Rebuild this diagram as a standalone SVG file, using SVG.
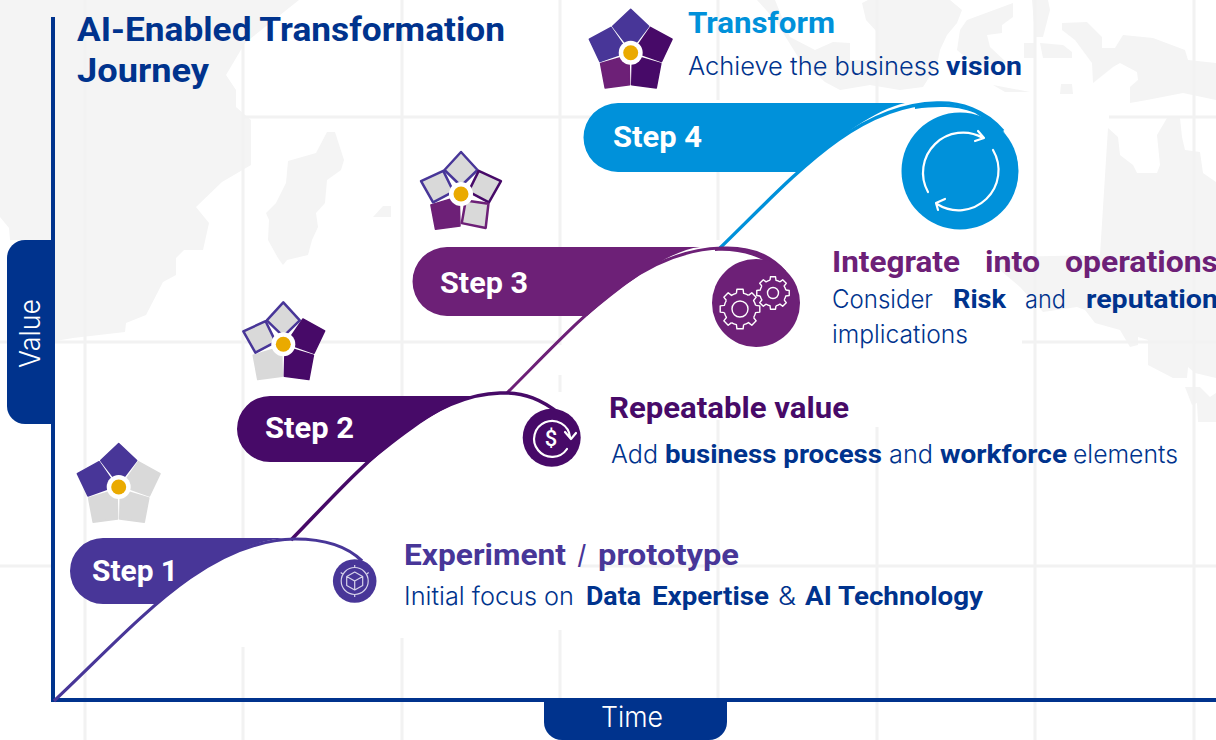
<svg xmlns="http://www.w3.org/2000/svg" width="1216" height="740" viewBox="0 0 1216 740">
<style>
.map{fill:#f4f4f4}
.grid{stroke:#f2f2f2;stroke-width:3;fill:none}
.ax{stroke:#00338D;stroke-width:4;fill:none}
.lt{font-family:"Inter","Liberation Sans",sans-serif;font-weight:300;font-size:25px;fill:#00338D}
.bd{font-family:"Roboto","Liberation Sans",sans-serif;font-weight:700;font-size:26px;fill:#00338D}
.hd{font-family:"Roboto","Liberation Sans",sans-serif;font-weight:700;font-size:29px}
.st{font-family:"Roboto","Liberation Sans",sans-serif;font-weight:700;font-size:30px;fill:#fff}
.ti{font-family:"Roboto","Liberation Sans",sans-serif;font-weight:700;font-size:34px;fill:#00338D}
.tab{font-family:"Inter","Liberation Sans",sans-serif;font-weight:300;font-size:28px;fill:#fff}
.ic{fill:none;stroke:#fff;stroke-width:2.2;stroke-linecap:round;stroke-linejoin:round}
.ic1{fill:none;stroke:#d8d4ea;stroke-width:1.2;stroke-linejoin:round}
.pA{fill:#483698;stroke:#483698;stroke-width:1.5}
.pB{fill:#470A68;stroke:#470A68;stroke-width:1.5}
.pC{fill:#6D2077;stroke:#6D2077;stroke-width:1.5}
.pG{fill:#d9d9d9;stroke:#d9d9d9;stroke-width:1.5}
.oA{fill:#d9d9d9;stroke:#483698;stroke-width:2.5}
.oB{fill:#d9d9d9;stroke:#470A68;stroke-width:2.5}
.oC{fill:#d9d9d9;stroke:#6D2077;stroke-width:2.5}
.hub{fill:#fff}
.dot{fill:#EAAA00}
</style>
<defs>
<path id="petal" stroke-linejoin="round" d="M0,-43.5 L18,-26.5 L0,-3 L-18,-26.5 Z"/>
<path id="petalO" stroke-linejoin="round" d="M0,-42 L16.5,-24 L0,-8 L-16.5,-24 Z"/>
<g id="hubdot"><circle class="hub" r="12"/><circle class="dot" r="7.5"/></g>
<path id="tooth" d="M-3.6,-15.6 L-3.1,-19.8 L3.1,-19.8 L3.6,-15.6 A16,16 0 0 1 8.5,-13.6"/>
<g id="gear">
<use href="#tooth"/><use href="#tooth" transform="rotate(45)"/><use href="#tooth" transform="rotate(90)"/><use href="#tooth" transform="rotate(135)"/><use href="#tooth" transform="rotate(180)"/><use href="#tooth" transform="rotate(225)"/><use href="#tooth" transform="rotate(270)"/><use href="#tooth" transform="rotate(315)"/>
</g>
</defs>
<rect width="1216" height="740" fill="#fff"/>
<g id="background-map">
<path class="map" d="M0,0 H299 L245,43 L226,75 L236,90 L236,107 L251,120 L251,165 L222,182 L196,207 L209,223 L203,250 L184,250 L176,258 L176,275 L163,282 L146,315 L126,323 L125,332 L73,338 L50,342 V240 L10,240 L9,228 L0,217 Z"/>
<path class="map" d="M327,132 L335,132 L344,160 L341,170 L327,180 L325,203 L316,213 L318,227 L312,240 L308,255 L287,260 L283,265 L278,258 L268,240 L269,220 L266,213 L276,203 L286,183 L288,161 L316,153 Z"/>
<path class="map" d="M383,206 H391 V217 H373 Z"/>
<path class="map" d="M757,0 L775,0 L790,37 L815,50 L833,42 L850,43 L850,60 L877,60 L877,32 L866,20 L862,3 L868,0 H950 L962,10 L957,23 L947,35 L940,50 L937,65 L923,87 L900,90 L870,85 L840,90 L825,82 L800,60 L775,20 Z"/>
<path class="map" d="M960,30 L967,20 L1013,3 L1013,17 L1002,25 L1002,33 L987,35 L990,47 L1007,63 L975,65 L957,50 Z"/>
<path class="map" d="M1032,0 H1048 L1050,10 L1043,37 L1035,37 Z"/>
<path class="map" d="M1024,43 H1035 V58 H1024 Z M1040,43 L1063,45 L1072,52 V58 H1043 Z"/>
<path class="map" d="M1061,84 H1072 L1073,94 H1060 Z M993,85 L1030,92 L1005,92 Z"/>
<path class="map" d="M1062,23 L1087,22 L1102,37 L1102,48 L1115,48 L1123,35 L1153,38 L1185,50 L1188,60 L1216,63 V100 L1183,93 L1147,100 L1130,103 L1130,87 L1138,80 L1137,72 L1120,63 L1113,67 L1093,83 L1092,63 L1075,40 L1062,30 Z"/>
<path class="map" d="M1108,128 L1118,137 L1120,155 L1133,165 L1137,173 L1157,173 L1160,165 L1157,135 L1167,118 L1180,118 L1182,137 L1185,150 L1200,152 L1203,173 L1216,182 V378 L1195,373 L1188,367 L1187,378 L1173,378 L1148,365 L1148,340 L1138,337 L1138,345 L1130,347 L1120,330 L1095,323 L1085,310 L1077,307 L1043,312 L1020,287 L1000,270 V257 L1100,255 Z"/>
<path class="map" d="M1185,387 H1200 L1210,397 L1216,393 V422 H1198 L1197,403 L1192,405 Z"/>
</g>
<g id="grid">
<path class="grid" d="M244,117 H600 M1109,117 H1216 M570,117 H584 M0,342 H560 M1022,342 H1216 M0,566 H52 M580,566 H1216"/>
<path class="grid" d="M85,0 V740 M243,43 V540 M243,647 V740 M402,0 V398 M402,638 V740 M560,0 V345 M560,375 V392 M560,630 V740 M718,0 V100 M718,140 V240 M718,420 V740 M877,0 V103 M877,427 V740 M1035,0 V740 M1194,0 V740"/>
</g>
<g id="axes">
<path class="ax" d="M53,17 V702 M52,700 H1216"/>
<path fill="#00338D" d="M55,240 H25 A18,18 0 0 0 7,258 V406 A18,18 0 0 0 25,424 H55 Z"/>
<path fill="#00338D" d="M544,700 H727 V722 A18,18 0 0 1 709,740 H562 A18,18 0 0 1 544,722 Z"/>
<text class="tab" transform="translate(40,368) rotate(-90)" textLength="69" lengthAdjust="spacingAndGlyphs">Value</text>
<text class="tab" x="601" y="727" textLength="62" lengthAdjust="spacingAndGlyphs">Time</text>
</g>
<g id="title">
<text class="ti" x="77" y="41" textLength="428" lengthAdjust="spacingAndGlyphs">AI-Enabled Transformation</text>
<text class="ti" x="77" y="82" textLength="132" lengthAdjust="spacingAndGlyphs">Journey</text>
</g>
<g id="connectors" fill="none">
<path stroke="#0091DA" stroke-width="3.4" d="M720,248 C795,175 855,105 937,103 C960,102 985,110 1003,131"/>
<path stroke="#6D2077" stroke-width="3" d="M507,393 C585,315 640,250 722,248 C745,247 768,252 785,272"/>
<path stroke="#470A68" stroke-width="3.5" d="M291,540 C350,480 420,395 500,393 C525,392 542,400 560,414"/>
<path stroke="#483698" stroke-width="3.2" d="M54,701 C135,625 205,540 295,539 C325,539 348,547 362,561"/>
</g>
<g id="step-1">
<path fill="#483698" d="M103,538 H290 C250,538 205,565 157,604 H103 A33,33 0 0 1 103,538 Z"/>
<text class="st" x="92" y="581" textLength="86" lengthAdjust="spacingAndGlyphs">Step 1</text>
<g transform="translate(118.7,487)">
<use href="#petal" class="pA"/><use href="#petal" class="pG" transform="rotate(72)"/><use href="#petal" class="pG" transform="rotate(144)"/><use href="#petal" class="pG" transform="rotate(216)"/><use href="#petal" class="pA" transform="rotate(288)"/><use href="#hubdot"/>
</g>
<circle cx="354.7" cy="581" r="21.8" fill="#483698"/>
<g class="ic1" transform="translate(354.7,581)">
<circle r="13.5"/><path d="M0,-9 L8,-4.5 V4.5 L0,9 L-8,4.5 V-4.5 Z M-8,-4.5 L0,0 L8,-4.5 M0,0 V9 M0,-13.5 V-16 M0,13.5 V16 M-12,-7 L-14,-8.5 M12,-7 L14,-8.5"/>
</g>
<text class="hd" x="404" y="565" fill="#483698" textLength="162" lengthAdjust="spacingAndGlyphs">Experiment</text>
<text class="hd" x="578" y="565" fill="#483698" textLength="8" lengthAdjust="spacingAndGlyphs">/</text>
<text class="hd" x="598" y="565" fill="#483698" textLength="141" lengthAdjust="spacingAndGlyphs">prototype</text>
<text class="lt" x="404" y="605" textLength="170" lengthAdjust="spacingAndGlyphs">Initial focus on</text>
<text class="bd" x="586" y="605" textLength="55" lengthAdjust="spacingAndGlyphs">Data</text>
<text class="bd" x="652" y="605" textLength="117" lengthAdjust="spacingAndGlyphs">Expertise</text>
<text class="lt" x="778" y="605" textLength="18" lengthAdjust="spacingAndGlyphs">&amp;</text>
<text class="bd" x="805" y="605" textLength="178" lengthAdjust="spacingAndGlyphs">AI Technology</text>
</g>
<g id="step-2">
<path fill="#470A68" d="M270,396 H480 C445,402 410,430 370,462 H270 A33,33 0 0 1 270,396 Z"/>
<text class="st" x="265" y="438" textLength="89" lengthAdjust="spacingAndGlyphs">Step 2</text>
<g transform="translate(283.3,344.3)">
<use href="#petalO" class="oA"/><use href="#petal" class="pB" transform="rotate(72)"/><use href="#petal" class="pB" transform="rotate(144)"/><use href="#petal" class="pG" transform="rotate(216)"/><use href="#petalO" class="oA" transform="rotate(288)"/><use href="#hubdot"/>
</g>
<circle cx="551.7" cy="437.7" r="29" fill="#470A68"/>
<path class="ic" d="M567,449 A18,18 0 1 1 570,437 M565,432 L571,439 L576,433"/>
<text x="551" y="445.5" text-anchor="middle" font-family="Roboto, Liberation Sans, sans-serif" font-weight="500" font-size="22" fill="#fff">$</text>
<text class="hd" x="609" y="418" fill="#470A68" textLength="240" lengthAdjust="spacingAndGlyphs">Repeatable value</text>
<text class="lt" x="611" y="463" textLength="47" lengthAdjust="spacingAndGlyphs">Add</text>
<text class="bd" x="665" y="463" textLength="217" lengthAdjust="spacingAndGlyphs">business process</text>
<text class="lt" x="889" y="463" textLength="44" lengthAdjust="spacingAndGlyphs">and</text>
<text class="bd" x="940" y="463" textLength="127" lengthAdjust="spacingAndGlyphs">workforce</text>
<text class="lt" x="1073" y="463" textLength="105" lengthAdjust="spacingAndGlyphs">elements</text>
</g>
<g id="step-3">
<path fill="#6D2077" d="M447,247 H700 C670,250 630,280 587,316 H447 A34.5,34.5 0 0 1 447,247 Z"/>
<path fill="#6D2077" d="M715,248 C745,245 770,252 790,276 L765,261 C748,252 730,250 715,251 Z"/>
<text class="st" x="440" y="293" textLength="88" lengthAdjust="spacingAndGlyphs">Step 3</text>
<g transform="translate(461,194)">
<use href="#petalO" class="oA"/><use href="#petalO" class="oB" transform="rotate(72)"/><use href="#petalO" class="oC" transform="rotate(144)"/><use href="#petal" class="pC" transform="rotate(216)"/><use href="#petalO" class="oA" transform="rotate(288)"/><use href="#hubdot"/>
</g>
<circle cx="756" cy="303" r="44" fill="#6D2077"/>
<g fill="none" stroke="#fff" stroke-linejoin="round">
<use href="#gear" transform="translate(740,309)" stroke-width="1.4"/>
<circle cx="740" cy="309" r="8" stroke-width="1.4"/>
<use href="#gear" transform="translate(773,293) scale(.82)" stroke-width="1.7"/>
<circle cx="773" cy="293" r="5.5" stroke-width="1.4"/>
</g>
<text class="hd" x="832" y="272" fill="#6D2077" textLength="128" lengthAdjust="spacingAndGlyphs">Integrate</text>
<text class="hd" x="985" y="272" fill="#6D2077" textLength="55" lengthAdjust="spacingAndGlyphs">into</text>
<text class="hd" x="1065" y="272" fill="#6D2077" textLength="153" lengthAdjust="spacingAndGlyphs">operations</text>
<text class="lt" x="832" y="308" textLength="101" lengthAdjust="spacingAndGlyphs">Consider</text>
<text class="bd" x="953" y="308" textLength="53" lengthAdjust="spacingAndGlyphs">Risk</text>
<text class="lt" x="1025" y="308" textLength="41" lengthAdjust="spacingAndGlyphs">and</text>
<text class="bd" x="1086" y="308" textLength="132" lengthAdjust="spacingAndGlyphs">reputation</text>
<text class="lt" x="832" y="343" textLength="136" lengthAdjust="spacingAndGlyphs">implications</text>
</g>
<g id="step-4">
<path fill="#0091DA" d="M618,103 H905 C875,110 840,135 800,172 H618 A34.5,34.5 0 0 1 618,103 Z"/>
<path fill="#0091DA" d="M915,105 C950,100 985,108 1005,133 L975,113 C958,106 938,106 915,109 Z"/>
<text class="st" x="613" y="147" textLength="89" lengthAdjust="spacingAndGlyphs">Step 4</text>
<g transform="translate(630.7,52.7)">
<use href="#petal" class="pA"/><use href="#petal" class="pB" transform="rotate(72)"/><use href="#petal" class="pB" transform="rotate(144)"/><use href="#petal" class="pC" transform="rotate(216)"/><use href="#petal" class="pA" transform="rotate(288)"/><use href="#hubdot"/>
</g>
<circle cx="960" cy="171" r="58.5" fill="#0091DA"/>
<path class="ic" d="M928,192 A40,40 0 0 1 983,138 M978,131 L984,138 L975,141 M993,150 A40,40 0 0 1 937,204 M945,199 L936,203 L938,210"/>
<text class="hd" x="688" y="33" fill="#0091DA" textLength="147" lengthAdjust="spacingAndGlyphs">Transform</text>
<text class="lt" x="688" y="75" textLength="252" lengthAdjust="spacingAndGlyphs">Achieve the business</text>
<text class="bd" x="946" y="75" textLength="76" lengthAdjust="spacingAndGlyphs">vision</text>
</g>
</svg>
